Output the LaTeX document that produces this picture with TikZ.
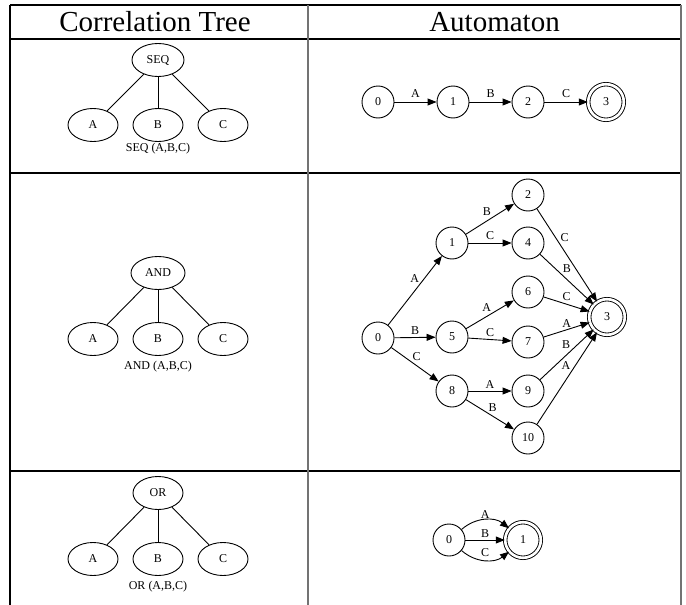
\documentclass[tikz,border=0pt]{standalone}
\usepackage{fontspec}
\setmainfont{Liberation Serif}
\usetikzlibrary{arrows.meta,shapes.geometric}
\tikzset{>={Triangle[length=9pt,width=7pt]}}
\colorlet{rulegray}{black!55}
\tikzstyle{state}=[circle,draw,line width=0.9pt,minimum size=32pt,inner sep=0pt,font=\fontsize{12}{13}\selectfont]
\tikzstyle{final}=[state,minimum size=35.6pt,double,double distance=2.6pt]
\tikzstyle{ellip}=[ellipse,draw,line width=0.9pt,minimum width=50pt,minimum height=33pt,inner sep=0pt,font=\fontsize{12}{13}\selectfont]
\tikzstyle{lbl}=[font=\fontsize{12}{13}\selectfont,inner sep=1pt]
\tikzstyle{arr}=[->,line width=0.9pt]

\begin{document}
\begin{tikzpicture}[x=1pt,y=-1pt]
    \useasboundingbox (0,0) rectangle (686,605);

    % table rules
    \draw[line width=1.3pt] (10,5)--(681,5);
    \draw[line width=1.3pt] (10,39)--(681,39);
    \draw[line width=1.3pt] (10,173)--(681,173);
    \draw[line width=1.3pt] (10,471)--(681,471);
    \draw[line width=1.3pt] (10,5)--(10,605);
    \draw[rulegray,line width=2pt] (308,5)--(308,605);
    \draw[rulegray,line width=2pt] (681,5)--(681,605);

    \node[font=\fontsize{29}{31}\selectfont,anchor=base] (hcor) at (155,31) {Correlation Tree};
    \node[font=\fontsize{29}{31}\selectfont,anchor=base] (haut) at (494.5,31) {Automaton};

    % SEQ tree
    \node[ellip,minimum width=52pt] (seq) at (158,60) {SEQ};
    \node[ellip] (seqa) at (93,125) {A};
    \node[ellip] (seqb) at (158,125) {B};
    \node[ellip] (seqc) at (223,125) {C};
    \draw[line width=0.9pt] (seq)--(seqa);
    \draw[line width=0.9pt] (seq)--(seqb);
    \draw[line width=0.9pt] (seq)--(seqc);
    \node[lbl,font=\fontsize{12}{13}\selectfont] (seqcap) at (158,149) {SEQ (A,B,C)};

    % AND tree
    \node[ellip,minimum width=54pt] (and) at (158,273) {AND};
    \node[ellip] (anda) at (93,339) {A};
    \node[ellip] (andb) at (158,339) {B};
    \node[ellip] (andc) at (223,339) {C};
    \draw[line width=0.9pt] (and)--(anda);
    \draw[line width=0.9pt] (and)--(andb);
    \draw[line width=0.9pt] (and)--(andc);
    \node[lbl,font=\fontsize{12}{13}\selectfont] (andcap) at (158,367) {AND (A,B,C)};

    % OR tree
    \node[ellip] (or) at (158,493) {OR};
    \node[ellip] (ora) at (93,559) {A};
    \node[ellip] (orb) at (158,559) {B};
    \node[ellip] (orc) at (223,559) {C};
    \draw[line width=0.9pt] (or)--(ora);
    \draw[line width=0.9pt] (or)--(orb);
    \draw[line width=0.9pt] (or)--(orc);
    \node[lbl,font=\fontsize{12}{13}\selectfont] (orcap) at (158,587) {OR (A,B,C)};

    % SEQ automaton
    \node[state] (a0) at (378,102) {0};
    \node[state] (a1) at (453,102) {1};
    \node[state] (a2) at (528,102) {2};
    \node[final] (a3) at (606,102) {3};
    \draw[arr] (a0)-- node[lbl,above=3pt] {A} (a1);
    \draw[arr] (a1)-- node[lbl,above=3pt] {B} (a2);
    \draw[arr] (a2)-- node[lbl,above=3pt] {C} (a3);

    % AND automaton
    \node[state] (b0) at (378,338) {0};
    \node[state] (b1) at (452,243) {1};
    \node[state] (b5) at (452,337) {5};
    \node[state] (b8) at (452,391) {8};
    \node[state] (b2) at (528,195) {2};
    \node[state] (b4) at (528,243) {4};
    \node[state] (b6) at (528,292) {6};
    \node[state] (b7) at (528,342) {7};
    \node[state] (b9) at (528,391) {9};
    \node[state] (b10) at (528,438) {10};
    \node[final] (b3) at (607,317) {3};
    \draw[arr] (b0)-- node[lbl,pos=.6,above left] {A} (b1);
    \draw[arr] (b0)-- node[lbl,above=2pt] {B} (b5);
    \draw[arr] (b0)-- node[lbl,pos=.42,above right] {C} (b8);
    \draw[arr] (b1)-- node[lbl,pos=.55,above left] {B} (b2);
    \draw[arr] (b1)-- node[lbl,above=2pt] {C} (b4);
    \draw[arr] (b5)-- node[lbl,pos=.55,above left] {A} (b6);
    \draw[arr] (b5)-- node[lbl,above=1pt] {C} (b7);
    \draw[arr] (b8)-- node[lbl,above=1pt] {A} (b9);
    \draw[arr] (b8)-- node[lbl,pos=.44,above right] {B} (b10);
    \draw[arr] (b2)-- node[lbl,pos=.37,above right] {C} (b3);
    \draw[arr] (b4)-- node[lbl,pos=.4,above right] {B} (b3);
    \draw[arr] (b6)-- node[lbl,above=2pt] {C} (b3);
    \draw[arr] (b7)-- node[lbl,above=1pt] {A} (b3);
    \draw[arr] (b9)-- node[lbl,pos=.59,above left] {B} (b3);
    \draw[arr] (b10)-- node[lbl,pos=.58,above left] {A} (b3);

    % OR automaton
    \node[state] (c0) at (449,540) {0};
    \node[final] (c1) at (523,540) {1};
    \draw[arr] (c0) to[bend left=40] node[lbl,above] {A} (c1);
    \draw[arr] (c0)-- node[lbl,above=1pt] {B} (c1);
    \draw[arr] (c0) to[bend right=40] node[lbl,above=2pt] {C} (c1);
\end{tikzpicture}
\end{document}
